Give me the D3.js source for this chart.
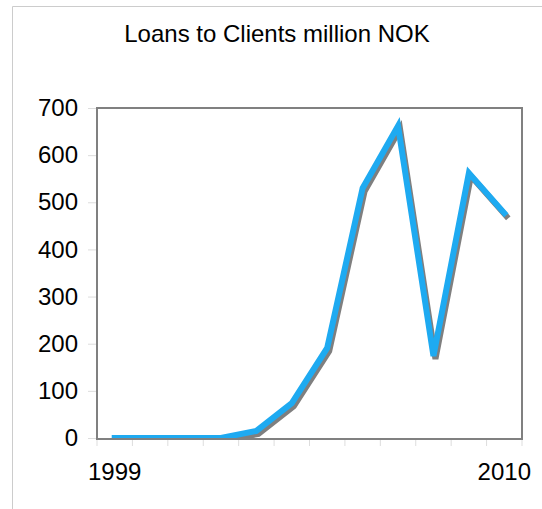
<!DOCTYPE html>
<html>
<head>
<meta charset="utf-8">
<script src="https://cdn.jsdelivr.net/npm/d3@7"></script>
<style>
  body { margin: 0; background: #fff; }
  svg { display: block; font-family: "Liberation Sans", Arial, sans-serif; }
</style>
</head>
<body>
<div id="chart"></div>
<script>
const title = "Loans to Clients million NOK";
const years = ["1999", "2000", "2001", "2002", "2003", "2004", "2005", "2006", "2007", "2008", "2009", "2010"];
const loans = [0, 0, 0, 0, 15, 74, 191, 530, 662, 174, 562, 477];
const yTicks = [0, 100, 200, 300, 400, 500, 600, 700];
const xLabels = ["1999", "2010"];

const W = 542, H = 509;
const margin = {top: 108, right: 20, bottom: 71, left: 97},
      width = W - margin.left - margin.right,
      height = H - margin.top - margin.bottom;

const svg = d3.select("#chart").append("svg")
    .attr("width", W)
    .attr("height", H);

// outer frame (only left and top edges are visible)
svg.append("path")
    .attr("d", `M12.5,${H} V6.5 H${W}`)
    .attr("fill", "none")
    .attr("stroke", "#cccccc");

svg.append("text")
    .attr("x", 277)
    .attr("y", 42)
    .attr("text-anchor", "middle")
    .attr("font-size", "24px")
    .attr("fill", "#000")
    .text(title);

const g = svg.append("g")
    .attr("transform", `translate(${margin.left},${margin.top})`);

const x = d3.scaleBand()
    .domain(years)
    .range([0, width]);

const y = d3.scaleLinear()
    .domain([0, 700])
    .range([height, 0]);

// y axis: light ticks + labels
const yAxis = d3.axisLeft(y)
    .tickValues(yTicks)
    .tickSize(8)
    .tickPadding(10)
    .tickFormat(d3.format("d"));

const ya = g.append("g")
    .attr("transform", "translate(-1,0)")
    .call(yAxis);
ya.select(".domain").remove();
ya.selectAll(".tick line").attr("stroke", "#dddddd");
ya.selectAll(".tick text")
    .attr("font-size", "24px")
    .attr("fill", "#000")
    .attr("font-family", "Liberation Sans, Arial, sans-serif");

// x axis: ticks at band boundaries, labels only at ends
const bounds = years.map(d => x(d)).concat([width]);
g.selectAll(".xtick")
    .data(bounds)
    .enter()
    .append("line")
    .attr("class", "xtick")
    .attr("x1", d => d)
    .attr("x2", d => d)
    .attr("y1", height + 2)
    .attr("y2", height + 8)
    .attr("stroke", "#dddddd");

g.selectAll(".xlabel")
    .data(xLabels)
    .enter()
    .append("text")
    .attr("class", "xlabel")
    .attr("x", d => x(d) + x.bandwidth() / 2)
    .attr("y", height + 42)
    .attr("text-anchor", "middle")
    .attr("font-size", "24px")
    .attr("fill", "#000")
    .text(d => d);

// clip to plot area
g.append("clipPath")
    .attr("id", "plotClip")
  .append("rect")
    .attr("x", 0)
    .attr("y", 0)
    .attr("width", width)
    .attr("height", height);

const line = d3.line()
    .x((d, i) => x(years[i]) + x.bandwidth() / 2)
    .y(d => y(d));

const lines = g.append("g").attr("clip-path", "url(#plotClip)");

// shadow
lines.append("path")
    .datum(loans)
    .attr("transform", "translate(2,3)")
    .attr("d", line)
    .attr("fill", "none")
    .attr("stroke", "#7f7f7f")
    .attr("stroke-width", 6)
    .attr("stroke-linecap", "square")
    .attr("stroke-linejoin", "miter");

lines.append("path")
    .datum(loans)
    .attr("d", line)
    .attr("fill", "none")
    .attr("stroke", "#1eaaf1")
    .attr("stroke-width", 6)
    .attr("stroke-linecap", "square")
    .attr("stroke-linejoin", "miter");

// plot border
g.append("rect")
    .attr("x", 0)
    .attr("y", 0)
    .attr("width", width)
    .attr("height", height + 1)
    .attr("fill", "none")
    .attr("stroke", "#808080")
    .attr("stroke-width", 2);
</script>
</body>
</html>
